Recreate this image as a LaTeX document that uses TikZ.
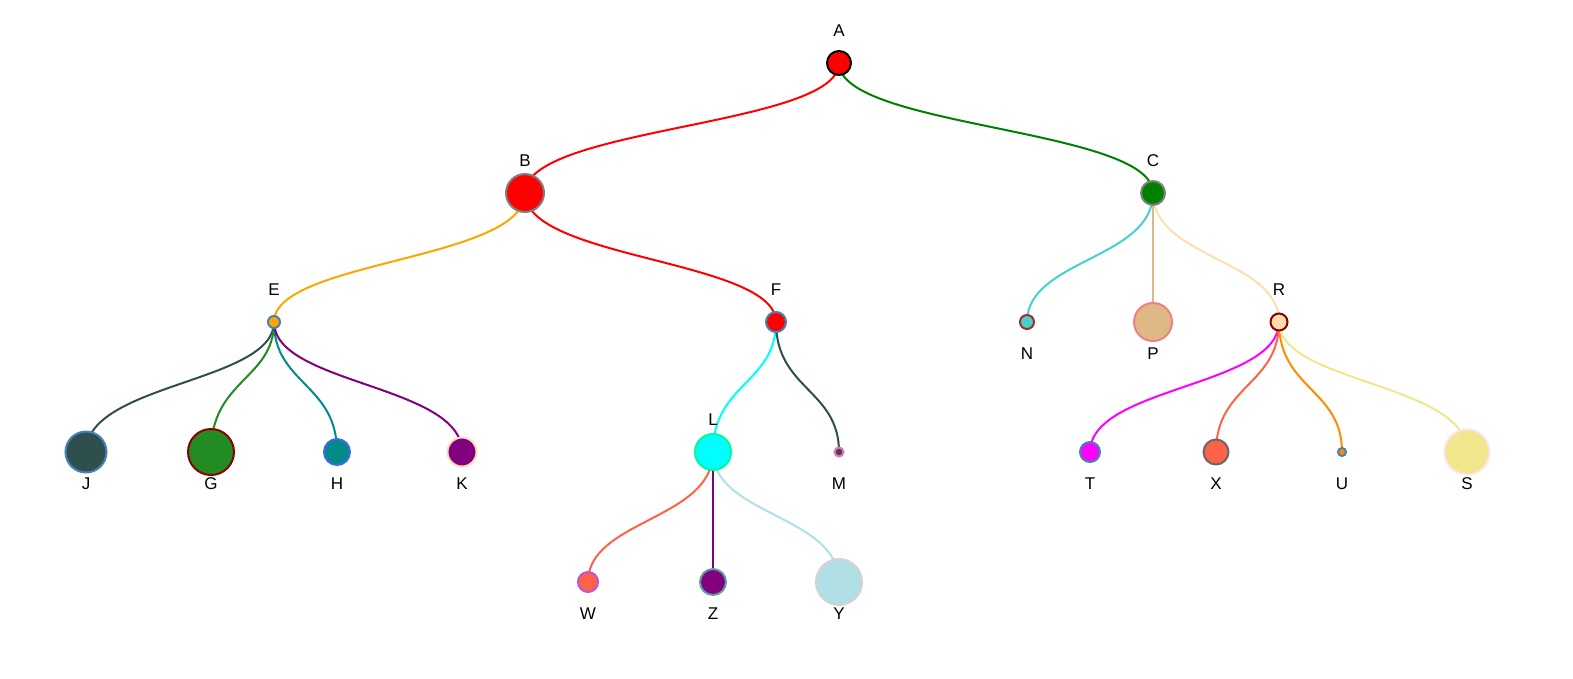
\documentclass[tikz,border=0pt]{standalone}
\usepackage{fontspec}
\setmainfont{Liberation Sans}
\usepackage{xcolor}
\definecolor{cRed}{HTML}{FF0000}
\definecolor{cGreen}{HTML}{008000}
\definecolor{cGray}{HTML}{808080}
\definecolor{cDimGray}{HTML}{696969}
\definecolor{cSteel}{HTML}{4682B4}
\definecolor{cOrange}{HTML}{FFA500}
\definecolor{cDarkOrange}{HTML}{FF8C00}
\definecolor{cTurq}{HTML}{48D1CC}
\definecolor{cBrown}{HTML}{A52A2A}
\definecolor{cBurly}{HTML}{DEB887}
\definecolor{cCoral}{HTML}{F08080}
\definecolor{cNavajo}{HTML}{FFDEAD}
\definecolor{cDarkRed}{HTML}{8B0000}
\definecolor{cSlate}{HTML}{2F4F4F}
\definecolor{cForest}{HTML}{228B22}
\definecolor{cDarkCyan}{HTML}{008B8B}
\definecolor{cRoyal}{HTML}{4169E1}
\definecolor{cPurple}{HTML}{800080}
\definecolor{cPeach}{HTML}{FFDAB9}
\definecolor{cCyan}{HTML}{00FFFF}
\definecolor{cSpring}{HTML}{00FA9A}
\definecolor{cHotPink}{HTML}{FF69B4}
\definecolor{cMagenta}{HTML}{FF00FF}
\definecolor{cTomato}{HTML}{FF6347}
\definecolor{cKhaki}{HTML}{F0E68C}
\definecolor{cMisty}{HTML}{FFE4E1}
\definecolor{cOrchid}{HTML}{BA55D3}
\definecolor{cCadet}{HTML}{5F9EA0}
\definecolor{cPowder}{HTML}{B0E0E6}
\definecolor{cLight}{HTML}{D3D3D3}
\usepackage{tikz}
\usetikzlibrary{calc,backgrounds}
\tikzset{
  tree-node/.style={circle,draw,line width=2pt,inner sep=0pt,outer sep=0pt},
  tree-label/.style={font=\fontsize{17}{17}\selectfont,inner sep=0pt,anchor=center},
  tree-link/.style={line width=2pt},
}

\begin{document}
\begin{tikzpicture}[x=1pt,y=-1pt]
  \useasboundingbox (0,0) rectangle (1573,678);
  % level 0
  \node[tree-node,fill=cRed,draw=black,minimum size=24pt] (A) at (839,63) {};
  % level 1
  \node[tree-node,fill=cRed,draw=cGray,minimum size=38pt] (B) at (525,193) {};
  \node[tree-node,fill=cGreen,draw=cGray,minimum size=24pt] (C) at (1153,193) {};
  % level 2
  \node[tree-node,fill=cOrange,draw=cSteel,minimum size=12pt] (E) at (274,322) {};
  \node[tree-node,fill=cRed,draw=cSteel,minimum size=20pt] (F) at (776,322) {};
  \node[tree-node,fill=cTurq,draw=cBrown,minimum size=14pt] (N) at (1027,322) {};
  \node[tree-node,fill=cBurly,draw=cCoral,minimum size=38pt] (P) at (1153,322) {};
  \node[tree-node,fill=cNavajo,draw=cDarkRed,minimum size=17pt] (R) at (1279,322) {};
  % level 3
  \node[tree-node,fill=cSlate,draw=cSteel,minimum size=41pt] (J) at (86,452) {};
  \node[tree-node,fill=cForest,draw=cDarkRed,minimum size=46pt] (G) at (211,452) {};
  \node[tree-node,fill=cDarkCyan,draw=cRoyal,minimum size=26pt] (H) at (337,452) {};
  \node[tree-node,fill=cPurple,draw=cPeach,minimum size=29pt] (K) at (462,452) {};
  \node[tree-node,fill=cCyan,draw=cSpring,minimum size=36pt] (L) at (713,452) {};
  \node[tree-node,fill=cSlate,draw=cHotPink,minimum size=9pt] (M) at (839,452) {};
  \node[tree-node,fill=cMagenta,draw=cSteel,minimum size=20pt] (T) at (1090,452) {};
  \node[tree-node,fill=cTomato,draw=cDimGray,minimum size=25pt] (X) at (1216,452) {};
  \node[tree-node,fill=cDarkOrange,draw=cSteel,minimum size=8pt] (U) at (1342,452) {};
  \node[tree-node,fill=cKhaki,draw=cMisty,minimum size=45pt] (S) at (1467,452) {};
  % level 4
  \node[tree-node,fill=cTomato,draw=cOrchid,minimum size=20pt] (W) at (588,582) {};
  \node[tree-node,fill=cPurple,draw=cCadet,minimum size=26pt] (Z) at (713,582) {};
  \node[tree-node,fill=cPowder,draw=cLight,minimum size=46pt] (Y) at (839,582) {};
  % labels
  \foreach \n in {A,B,C,E,F,R,L}
    \node[tree-label] (\n-lbl) at ($(\n)+(0,-32)$) {\n};
  \foreach \n in {N,P,J,G,H,K,M,T,X,U,S,W,Z,Y}
    \node[tree-label] (\n-lbl) at ($(\n)+(0,32)$) {\n};
  % links
  \begin{scope}[on background layer]
    \foreach \p/\c/\col in {A/B/cRed,A/C/cGreen,B/E/cOrange,B/F/cRed,
        C/N/cTurq,C/P/cBurly,C/R/cNavajo,E/J/cSlate,E/G/cForest,
        E/H/cDarkCyan,E/K/cPurple,F/L/cCyan,F/M/cSlate,R/T/cMagenta,
        R/X/cTomato,R/U/cDarkOrange,R/S/cKhaki,L/W/cTomato,L/Z/cPurple,
        L/Y/cPowder} {
      \path (\p) -- coordinate[midway] (\p\c-mid) (\c);
      \draw[tree-link,draw=\col] (\p.center)
        .. controls (\p\c-mid -| \p) and (\p\c-mid -| \c) .. (\c.center);
    }
  \end{scope}
\end{tikzpicture}
\end{document}
